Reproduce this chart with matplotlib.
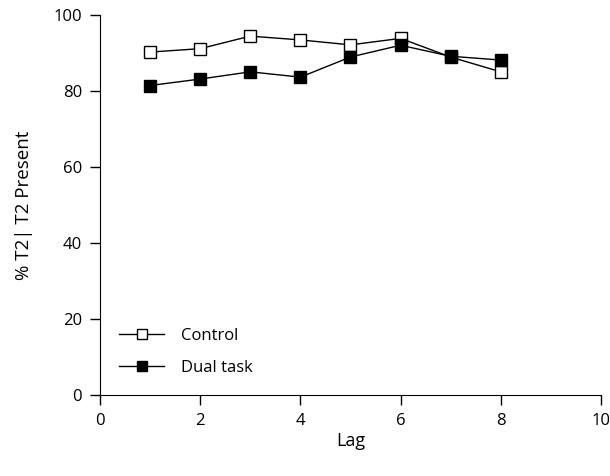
import matplotlib.pyplot as plt

plt.rcParams['font.family'] = ['Open Sans', 'DejaVu Sans']

# Lag values and percent T2 detection for each condition
lags = [1, 2, 3, 4, 5, 6, 7, 8]
control = [90.3, 91.2, 94.5, 93.5, 92.2, 93.9, 89.0, 85.1]
dual_task = [81.5, 83.2, 85.1, 83.7, 89.0, 92.1, 89.2, 88.2]

fig = plt.figure(figsize=(6.10, 4.76), dpi=100)
ax = fig.add_axes([0.164, 0.170, 0.821, 0.798])

ax.plot(lags, control, color='black', linewidth=1.0, marker='s', markersize=8.5,
        markerfacecolor='white', markeredgecolor='black', markeredgewidth=1.0,
        label='Control')
ax.plot(lags, dual_task, color='black', linewidth=1.0, marker='s', markersize=8.5,
        markerfacecolor='black', markeredgecolor='black', markeredgewidth=1.0,
        label='Dual task')

ax.set_xlim(0, 10)
ax.set_ylim(0, 100)
ax.set_xticks([0, 2, 4, 6, 8, 10])
ax.set_yticks([0, 20, 40, 60, 80, 100])
ax.set_xlabel('Lag', fontsize=13, labelpad=2)
ax.set_ylabel('% T2| T2 Present', fontsize=13.5, labelpad=15)
ax.tick_params(direction='out', length=7, width=1, labelsize=12, pad=6)

ax.spines['top'].set_visible(False)
ax.spines['right'].set_visible(False)

ax.legend(loc='lower left', frameon=False, fontsize=12, markerscale=0.8,
          handlelength=2.7, handletextpad=1.0, bbox_to_anchor=(0.008, 0.012),
          labelspacing=0.95)

plt.savefig('out.png', dpi=100)
